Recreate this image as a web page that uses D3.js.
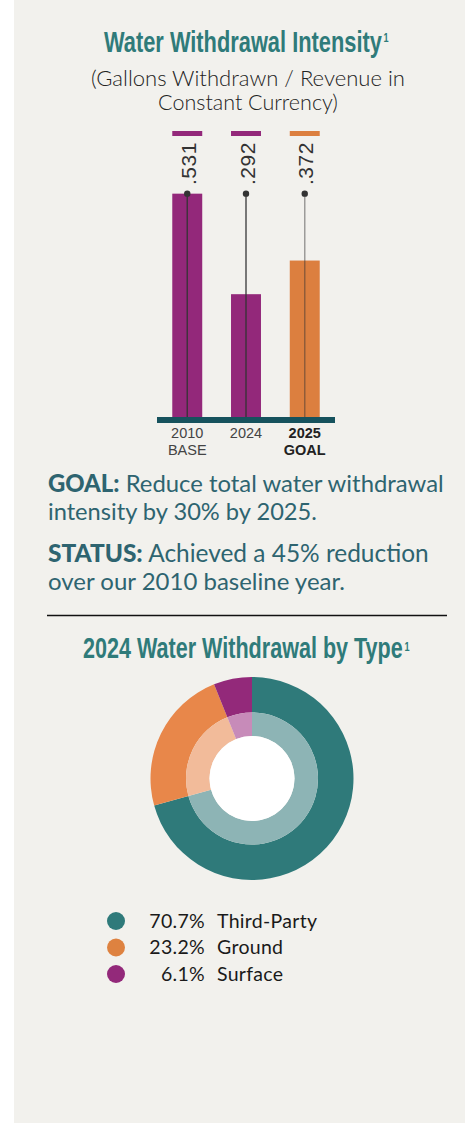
<!DOCTYPE html>
<html>
<head>
<meta charset="utf-8">
<script src="https://cdn.jsdelivr.net/npm/d3@7"></script>
<style>
  html, body { margin: 0; padding: 0; background: #ffffff; }
  svg { display: block; }
</style>
</head>
<body>
<svg id="chart" width="465" height="1123"></svg>
<script>
// ---------- data ----------
const years = ["2010", "2024", "2025"];
const yearSubLabels = ["BASE", "", "GOAL"];
const intensity = [0.531, 0.292, 0.372];
const intensityLabels = [".531", ".292", ".372"];
const baselineValue = 0.531;
const scaleMax = 0.68;

const withdrawalTypes = ["Third-Party", "Ground", "Surface"];
const withdrawalShares = [70.7, 23.2, 6.1];
const shareLabels = ["70.7%", "23.2%", "6.1%"];

// ---------- styles ----------
const BG = "#f2f1ed";
const TEAL_TITLE = "#2f7b7a";
const TEXT_TEAL = "#2e6470";
const barFill = ["#93287a", "#93287a", "#dc7f3f"];
const stemOpacity = [0.85, 0.85, 0.45];
const ringOuter = ["#2f7a7a", "#e8874a", "#93297a"];
const ringInner = ["#8db4b5", "#f2bb9a", "#c78bb9"];
const legendDot = ["#2f7a7a", "#de8240", "#93297a"];

const svg = d3.select("#chart");
svg.append("rect").attr("x", 14).attr("y", 0).attr("width", 451).attr("height", 1123).attr("fill", BG);

const condFont = "'Liberation Sans Narrow', 'Liberation Sans', Arial, sans-serif";
// condensed title: squeeze horizontally via transform so bbox stays true
function condensedTitle(text, left, baseline, width, supGap, supRise) {
  const gT = svg.append("g");
  const t = gT.append("text")
    .attr("font-family", condFont).attr("font-weight", "bold").attr("font-size", 29.5)
    .attr("fill", TEAL_TITLE).text(text);
  const nat = t.node().getComputedTextLength();
  const sx = width / nat;
  gT.attr("transform", `translate(${left},${baseline}) scale(${sx},1)`);
  svg.append("text")
    .attr("x", left + width + supGap).attr("y", baseline - supRise)
    .attr("font-family", condFont).attr("font-weight", "bold").attr("font-size", 13)
    .attr("fill", TEAL_TITLE)
    .attr("transform", `translate(${(left + width + supGap) * (1 - 0.7)},0) scale(0.7,1)`)
    .text("1");
}
condensedTitle("Water Withdrawal Intensity", 104, 52, 278, 1.5, 10);

// fit text to width by font-size
function fitText(sel, width) {
  const nat = sel.node().getComputedTextLength();
  const fs = parseFloat(sel.attr("font-size"));
  sel.attr("font-size", fs * width / nat);
}

const subFont = "Lato, 'Open Sans', sans-serif";
[["(Gallons Withdrawn / Revenue in", 86, 314], ["Constant Currency)", 110, 180]].forEach(([t, y, w]) => {
  const s = svg.append("text").attr("x", 248).attr("y", y).attr("text-anchor", "middle")
    .attr("font-family", subFont).attr("font-size", 18).attr("font-weight", 300)
    .attr("fill", "#222").text(t);
  fitText(s, w);
});

// ---------- bar chart ----------
const x = d3.scaleBand().domain(years).range([157, 335]).paddingInner(0.49).paddingOuter(0.26);
const y = d3.scaleLinear().domain([0, scaleMax]).range([417, 131]);
const bw = x.bandwidth();

const g = svg.append("g");
g.selectAll("rect.cap").data(years).join("rect").attr("class", "cap")
  .attr("x", d => x(d)).attr("y", y(scaleMax)).attr("width", bw).attr("height", 5)
  .attr("fill", (d, i) => barFill[i]);
g.selectAll("rect.bar").data(intensity).join("rect").attr("class", "bar")
  .attr("x", (d, i) => x(years[i])).attr("y", d => y(d))
  .attr("width", bw).attr("height", d => y(0) - y(d))
  .attr("fill", (d, i) => barFill[i]);
g.selectAll("line.stem").data(years).join("line").attr("class", "stem")
  .attr("x1", d => x(d) + bw / 2).attr("x2", d => x(d) + bw / 2)
  .attr("y1", y(baselineValue)).attr("y2", y(0))
  .attr("stroke", "#333").attr("stroke-width", 1.5)
  .attr("stroke-opacity", (d, i) => stemOpacity[i]);
g.selectAll("circle.dot").data(years).join("circle").attr("class", "dot")
  .attr("cx", d => x(d) + bw / 2).attr("cy", y(baselineValue)).attr("r", 3.2)
  .attr("fill", "#333");
g.selectAll("text.val").data(intensityLabels).join("text").attr("class", "val")
  .attr("transform", (d, i) => `translate(${x(years[i]) + bw / 2 + 8.5},185) rotate(-90)`)
  .attr("font-family", "'Liberation Sans', Arial, sans-serif").attr("font-size", 21)
  .attr("letter-spacing", 0.5)
  .attr("fill", "#333")
  .text(d => d);
g.append("rect").attr("x", 157).attr("y", y(0)).attr("width", 178).attr("height", 6).attr("fill", "#16525d");
const xAxisG = g.append("g");
years.forEach((yr, i) => {
  const cx = x(yr) + bw / 2;
  const bold = i === 2;
  [yr, yearSubLabels[i]].forEach((t, j) => {
    if (!t) return;
    xAxisG.append("text").attr("x", cx).attr("y", 438 + j * 17)
      .attr("text-anchor", "middle")
      .attr("font-family", "'Liberation Sans', Arial, sans-serif")
      .attr("font-size", 14.5).attr("font-weight", bold ? "bold" : "normal")
      .attr("fill", bold ? "#222" : "#444")
      .text(t);
  });
});

// ---------- goal / status ----------
const bodyFont = "Lato, 'Open Sans', sans-serif";
const bodyLines = [
  ["GOAL:", " Reduce total water withdrawal", 492, 396],
  ["", "intensity by 30% by 2025.", 520, 269],
  ["STATUS:", " Achieved a 45% reduction", 562, 381],
  ["", "over our 2010 baseline year.", 590, 297]
];
bodyLines.forEach(([b, r, yy, w]) => {
  const t = svg.append("text").attr("x", 48).attr("y", yy)
    .attr("font-family", bodyFont).attr("font-size", 22).attr("fill", TEXT_TEAL);
  if (b) t.append("tspan").attr("font-weight", "900").text(b);
  t.append("tspan").text(r);
  fitText(t, w);
});

svg.append("line").attr("x1", 47).attr("x2", 447).attr("y1", 615.5).attr("y2", 615.5)
  .attr("stroke", "#111").attr("stroke-width", 1.5);

// ---------- title 2 ----------
condensedTitle("2024 Water Withdrawal by Type", 83, 658, 320, 1.5, 7);

// ---------- donut ----------
const cx = 252, cy = 778.5;
const pie = d3.pie().sort(null).value(d => d)(withdrawalShares);
const arcOuter = d3.arc().innerRadius(66).outerRadius(101.5);
const arcInner = d3.arc().innerRadius(42.5).outerRadius(66);
const dg = svg.append("g").attr("transform", `translate(${cx},${cy})`);
dg.selectAll("path.o").data(pie).join("path").attr("class", "o")
  .attr("d", arcOuter).attr("fill", (d, i) => ringOuter[i]);
dg.selectAll("path.i").data(pie).join("path").attr("class", "i")
  .attr("d", arcInner).attr("fill", (d, i) => ringInner[i]);
dg.append("circle").attr("r", 42.5).attr("fill", "#ffffff");

// ---------- legend ----------
const lg = svg.append("g");
withdrawalTypes.forEach((t, i) => {
  const yy = 921 + i * 26.5;
  lg.append("circle").attr("cx", 116).attr("cy", yy).attr("r", 9).attr("fill", legendDot[i]);
  lg.append("text").attr("x", 205).attr("y", yy + 6.5).attr("text-anchor", "end")
    .attr("font-family", bodyFont).attr("font-size", 19.5).attr("fill", "#1a1a1a")
    .attr("letter-spacing", 0.3)
    .text(shareLabels[i]);
  lg.append("text").attr("x", 217).attr("y", yy + 6.5)
    .attr("font-family", bodyFont).attr("font-size", 19.5).attr("fill", "#1a1a1a")
    .attr("letter-spacing", 0.3)
    .text(t);
});
</script>
</body>
</html>
